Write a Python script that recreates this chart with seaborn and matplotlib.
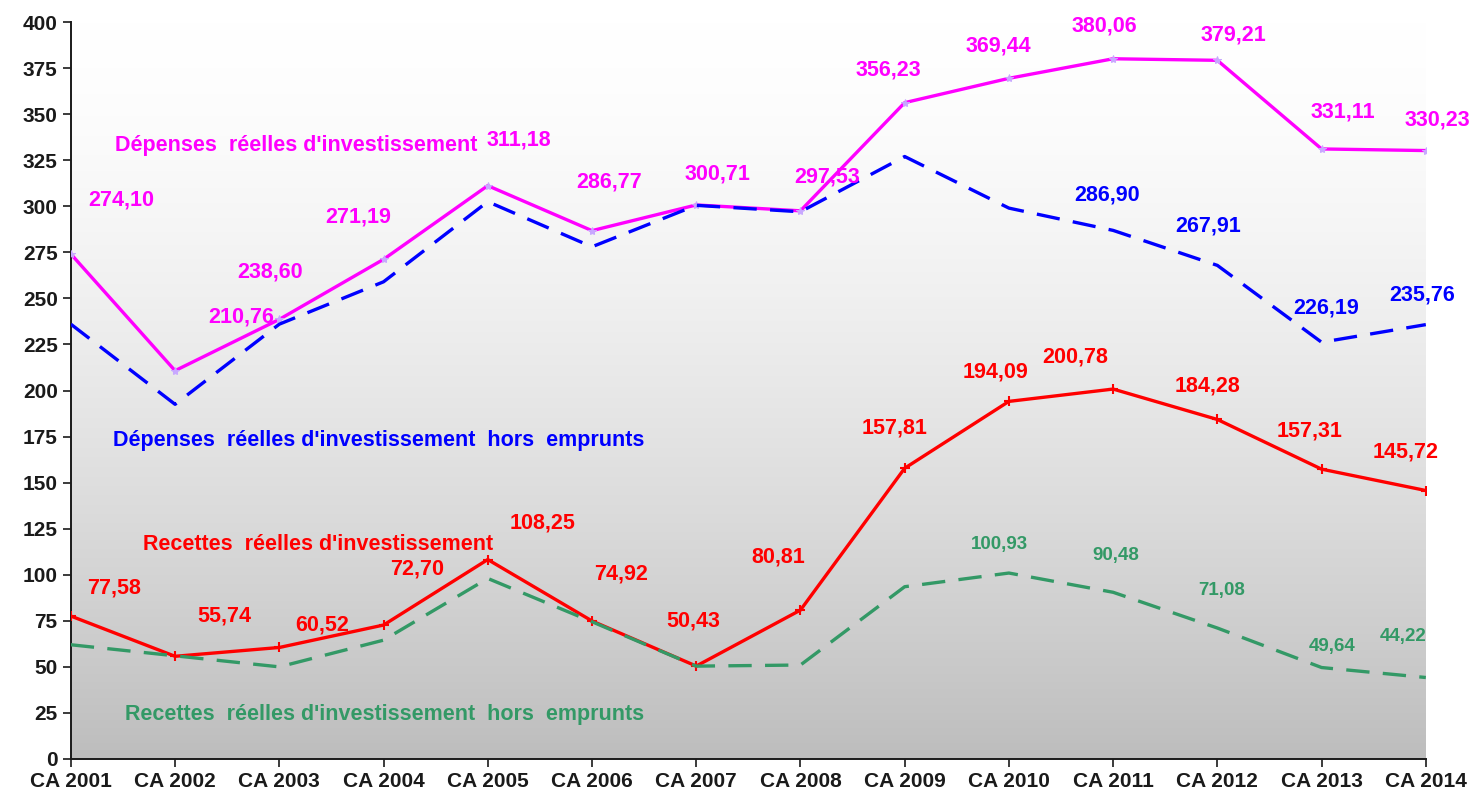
import numpy as np
import pandas as pd
import matplotlib.pyplot as plt
import seaborn as sns

# Categories and series values
annees = ["CA 2001", "CA 2002", "CA 2003", "CA 2004", "CA 2005", "CA 2006", "CA 2007",
          "CA 2008", "CA 2009", "CA 2010", "CA 2011", "CA 2012", "CA 2013", "CA 2014"]
depenses = [274.10, 210.76, 238.60, 271.19, 311.18, 286.77, 300.71,
            297.53, 356.23, 369.44, 380.06, 379.21, 331.11, 330.23]
depenses_hors_emprunts = [236.0, 192.5, 236.0, 259.0, 302.5, 278.0, 300.5,
                          297.0, 327.0, 299.0, 286.90, 267.91, 226.19, 235.76]
recettes = [77.58, 55.74, 60.52, 72.70, 108.25, 74.92, 50.43,
            80.81, 157.81, 194.09, 200.78, 184.28, 157.31, 145.72]
recettes_hors_emprunts = [62.0, 56.0, 50.0, 64.5, 98.0, 74.5, 50.4,
                          51.0, 93.5, 100.93, 90.48, 71.08, 49.64, 44.22]

# which points carry a value label
lab_dep = list(range(14))
lab_dep_he = [10, 11, 12, 13]
lab_rec = list(range(14))
lab_rec_he = [9, 10, 11, 12, 13]

MAGENTA = "#ff00ff"
BLUE = "#0000ff"
RED = "#ff0000"
GREEN = "#339966"

sns.set_style("ticks")
plt.rcParams["font.family"] = ["Liberation Sans", "DejaVu Sans"]

fig = plt.figure(figsize=(14.76, 7.95), dpi=100)
ax = fig.add_axes([0.048, 0.0453, 0.918, 0.927])

# vertical gradient: white at the top, grey at the bottom
t = 1 - np.linspace(0, 1, 400)[:, None]     # row 0 = bottom -> t = 1
g = (255 - 66 * t ** 1.5) / 255
bg = np.dstack([g, g, g])
ax.imshow(bg, extent=[0, 13, 0, 400], aspect="auto", zorder=0, origin="lower")

df = pd.DataFrame({
    "x": np.arange(len(annees)),
    "dep": depenses, "dep_he": depenses_hors_emprunts,
    "rec": recettes, "rec_he": recettes_hors_emprunts,
})

sns.lineplot(data=df, x="x", y="dep", ax=ax, color=MAGENTA, linewidth=2.4,
             marker="*", markersize=6, markerfacecolor="#c8a8ff",
             markeredgecolor="#c8a8ff", zorder=3)
sns.lineplot(data=df, x="x", y="rec", ax=ax, color=RED, linewidth=2.4,
             marker="+", markersize=7, markeredgewidth=1.5,
             markeredgecolor=RED, zorder=3)
sns.lineplot(data=df, x="x", y="dep_he", ax=ax, color=BLUE, linewidth=2.4,
             linestyle=(0, (7, 4)), zorder=4)
sns.lineplot(data=df, x="x", y="rec_he", ax=ax, color=GREEN, linewidth=2.4,
             linestyle=(0, (7, 4)), zorder=4)

# label offsets in pixels (dx, dy upward) relative to each point
off_dep = [(50, 54), (66, 54), (-9, 47), (-25, 42), (31, 46), (17, 49), (21, 31),
           (27, 34), (-16, 33), (-11, 32), (-9, 33), (16, 25), (21, 37), (12, 31)]
off_dep_he = [(-6, 35), (-9, 39), (5, 34), (-4, 30)]
off_rec = [(43, 28), (49, 40), (43, 22), (34, 56), (55, 37), (29, 47), (-3, 45),
           (-22, 53), (-10, 40), (-13, 29), (-38, 32), (-10, 33), (-12, 38), (-20, 39)]
off_rec_he = [(-9, 29), (3, 37), (4, 38), (11, 21), (-23, 41)]


def fmt(v):
    return f"{v:.2f}".replace(".", ",")


def put_labels(values, idx, offs, color, size):
    for i, (dx, dy) in zip(idx, offs):
        ax.annotate(fmt(values[i]), xy=(i, values[i]), xytext=(dx * 0.72, dy * 0.72),
                    textcoords="offset points", ha="center", va="center",
                    color=color, fontsize=size, fontweight="bold",
                    annotation_clip=False, zorder=5)


put_labels(depenses, lab_dep, off_dep, MAGENTA, 15.5)
put_labels(depenses_hors_emprunts, lab_dep_he, off_dep_he, BLUE, 15.5)
put_labels(recettes, lab_rec, off_rec, RED, 15.5)
put_labels(recettes_hors_emprunts, lab_rec_he, off_rec_he, GREEN, 13.5)

# series names written inside the plot
ax.text(0.42, 333, "Dépenses  réelles d'investissement", color=MAGENTA,
        fontsize=15.5, fontweight="bold", va="center", ha="left", zorder=5)
ax.text(0.40, 172.6, "Dépenses  réelles d'investissement  hors  emprunts", color=BLUE,
        fontsize=15.5, fontweight="bold", va="center", ha="left", zorder=5)
ax.text(0.69, 116.5, "Recettes  réelles d'investissement", color=RED,
        fontsize=15.5, fontweight="bold", va="center", ha="left", zorder=5)
ax.text(0.52, 24.4, "Recettes  réelles d'investissement  hors  emprunts", color=GREEN,
        fontsize=15.5, fontweight="bold", va="center", ha="left", zorder=5)

ax.set_xlim(0, 13)
ax.set_ylim(0, 400)
ax.set_xticks(range(len(annees)))
ax.set_xticklabels(annees)
ax.set_yticks(range(0, 401, 25))
ax.set_xlabel("")
ax.set_ylabel("")
ax.tick_params(axis="both", labelsize=15, colors="#1a1a1a", length=6, width=1.2)
for lab in ax.get_xticklabels() + ax.get_yticklabels():
    lab.set_fontweight("bold")
sns.despine(ax=ax)
for s in ("left", "bottom"):
    ax.spines[s].set_color("#1a1a1a")
    ax.spines[s].set_linewidth(1.4)

fig.savefig("out.png", dpi=100)
